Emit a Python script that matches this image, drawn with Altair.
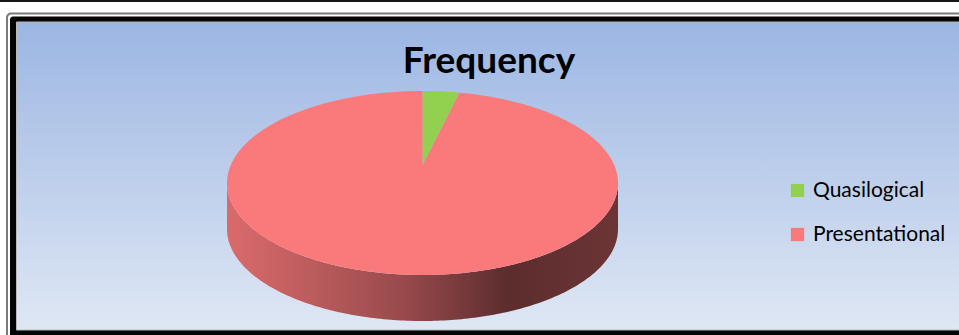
import math

import altair as alt

# Pie data: frequency of each argument type
categories = ["Quasilogical", "Presentational"]
frequency = [1, 32]
slice_colors = ["#92d050", "#fa7a7c"]

# 3-D pie layout (pixels)
CX, CY = 422.5, 183.0      # centre of the top face ellipse
RX, RY = 195.5, 92.0       # ellipse radii
DEPTH = 46.0               # thickness of the disc
APEX_LIFT = 18.0           # perspective shift of the slice apex
STEPS = 360


def rim(t, drop=0.0):
    """Point on the top rim, angle t clockwise from 12 o'clock."""
    return [CX + RX * math.sin(t), CY - RY * math.cos(t) + drop]


def arc(t0, t1, drop=0.0):
    n = max(2, int(STEPS * (t1 - t0) / (2 * math.pi)) + 2)
    return [rim(t0 + (t1 - t0) * i / (n - 1), drop) for i in range(n)]


def shade(hex_color, f):
    r, g, b = (int(hex_color[i:i + 2], 16) for i in (1, 3, 5))
    return "#%02x%02x%02x" % tuple(int(round(c * f)) for c in (r, g, b))


total = sum(frequency)
bounds = []
acc = 0.0
for v in frequency:
    start = 2 * math.pi * acc / total
    acc += v
    bounds.append((start, 2 * math.pi * acc / total))

apex = [CX, CY - APEX_LIFT]

top_features = []
wall_layers = []
for cat, value, color, (t0, t1) in zip(categories, frequency, slice_colors, bounds):
    ring = [apex] + arc(t0, t1) + [apex]
    top_features.append({
        "type": "Feature",
        "properties": {"category": cat, "frequency": value},
        "geometry": {"type": "Polygon", "coordinates": [ring]},
    })
    # visible front wall: the part of the slice between 3 and 9 o'clock
    w0, w1 = max(t0, math.pi / 2), min(t1, 3 * math.pi / 2)
    if w1 > w0:
        upper = arc(w0, w1)
        lower = arc(w0, w1, DEPTH)[::-1]
        wall_ring = upper + lower + [upper[0]]
        wall = {
            "type": "Feature",
            "properties": {"category": cat},
            "geometry": {"type": "Polygon", "coordinates": [wall_ring]},
        }
        gradient = alt.LinearGradient(
            gradient="linear",
            x1=0, x2=1, y1=0, y2=0,
            stops=[
                alt.GradientStop(color=shade(color, 0.87), offset=0.0),
                alt.GradientStop(color=shade(color, 0.76), offset=0.2),
                alt.GradientStop(color=shade(color, 0.61), offset=0.45),
                alt.GradientStop(color=shade(color, 0.37), offset=0.72),
                alt.GradientStop(color=shade(color, 0.43), offset=1.0),
            ],
        )
        wall_layers.append(
            alt.Chart(alt.Data(values=[wall]))
            .mark_geoshape(fill=gradient, stroke=None, strokeWidth=0)
            .project(type="identity", scale=1, translate=[0, 0])
        )

one = alt.Data(values=[{}])

# chart frame: grey outline, thick black border, blue gradient plot area
outline = alt.Chart(one).mark_rect(
    fill="white", stroke="#7a7a7a", strokeWidth=2, cornerRadius=4
).encode(x=alt.value(7), x2=alt.value(990), y=alt.value(13.5), y2=alt.value(360))

border = alt.Chart(one).mark_rect(fill="#050505", cornerRadius=3).encode(
    x=alt.value(10), x2=alt.value(990), y=alt.value(16.5), y2=alt.value(360)
)

plot_bg = alt.Chart(one).mark_rect(
    color=alt.LinearGradient(
        gradient="linear",
        x1=0, x2=0, y1=0, y2=1,
        stops=[
            alt.GradientStop(color="#9cb6e3", offset=0.0),
            alt.GradientStop(color="#dfe7f4", offset=1.0),
        ],
    ),
    stroke="#b8b8b8",
    strokeWidth=1,
).encode(x=alt.value(16.5), x2=alt.value(990), y=alt.value(22), y2=alt.value(330))

top_rule = alt.Chart(one).mark_rule(color="#151515", strokeWidth=2).encode(
    x=alt.value(0), x2=alt.value(959), y=alt.value(1)
)

slices = (
    alt.Chart(alt.Data(values=top_features))
    .mark_geoshape(strokeWidth=0, stroke=None)
    .encode(
        color=alt.Color(
            "properties.category:N",
            scale=alt.Scale(domain=categories, range=slice_colors),
            legend=alt.Legend(
                title=None,
                orient="none",
                legendX=787,
                legendY=180,
                symbolType="square",
                symbolSize=175,
                symbolStrokeWidth=0,
                symbolOpacity=1,
                labelFont="Lato",
                labelFontSize=21,
                labelColor="#000000",
                labelOffset=5,
                rowPadding=22,
                padding=0,
            ),
        )
    )
    .project(type="identity", scale=1, translate=[0, 0])
)

title = alt.Chart(one).mark_text(
    text="Frequency",
    font="Lato",
    fontSize=37,
    fontWeight="bold",
    color="#000000",
    align="center",
    baseline="alphabetic",
).encode(x=alt.value(489), y=alt.value(73))

chart = (
    alt.layer(outline, border, plot_bg, top_rule, *wall_layers, slices, title)
    .properties(width=959, height=335, padding=0, background="white")
    .configure(autosize=alt.AutoSizeParams(type="none"))
    .configure_view(stroke=None)
)

chart.save("out.html", embed_options={"renderer": "svg", "actions": False})
